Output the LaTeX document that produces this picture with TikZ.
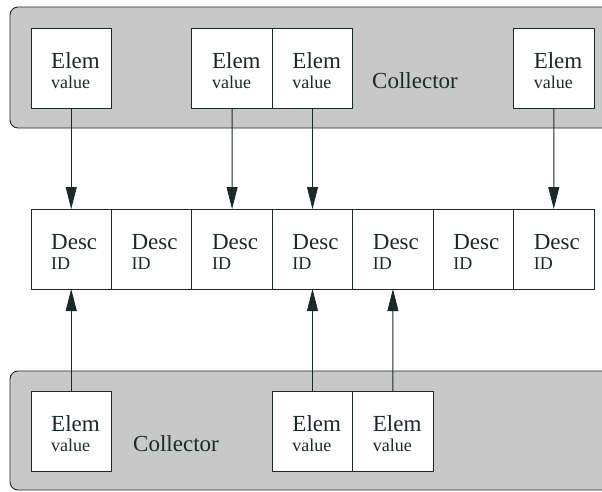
\documentclass[tikz,border=0pt]{standalone}
\usepackage{fontspec}
\setmainfont{Liberation Serif}
\usetikzlibrary{arrows.meta}

\definecolor{collgray}{HTML}{C8C8C8}
\definecolor{inkline}{HTML}{1A2A2A}

% one labelled cell: name, left x, top y, upper word, lower word
\newcommand\tile[5]{%
  \node[tile, anchor=north west] (#1) at (#2,#3) {};
  \node[bigtext, anchor=base west] (#1-a) at ([shift={(20,40)}]#1.north west) {#4};
  \node[smalltext, anchor=base west] (#1-b) at ([shift={(20,60)}]#1.north west) {#5};
}

\begin{document}
\begin{tikzpicture}[x=1pt, y=-1pt,
  tile/.style={draw=inkline, fill=white, line width=0.9pt,
    minimum width=80.43pt, minimum height=80pt, inner sep=0pt, outer sep=0pt},
  bigtext/.style={inner sep=0pt, text=inkline, font=\fontsize{23}{27}\selectfont},
  smalltext/.style={inner sep=0pt, text=inkline, font=\fontsize{18}{21}\selectfont},
  collector/.style={draw=inkline, fill=collgray, line width=0.9pt, rounded corners=8pt},
  arr/.style={draw=inkline, line width=0.9pt, -{Triangle[length=22pt, width=11pt]}}
]
\useasboundingbox (0,0) rectangle (602,491);

% the two collector bands, running off the right edge
\begin{scope}
  \clip (0,0) rectangle (602,491);
  \draw[collector] (10,7) rectangle (630,128);
  \draw[collector] (10,371) rectangle (630,490);
\end{scope}
\node[bigtext, anchor=base west] (topcoll) at (372,88) {Collector};
\node[bigtext, anchor=base west] (botcoll) at (133,451) {Collector};

% row of descriptors
\foreach \i in {0,...,6} {
  \tile{d\i}{31+80.43*\i}{209}{Desc}{ID}
}

% elements held by the upper collector
\tile{t0}{31}{28}{Elem}{value}
\tile{t2}{191.86}{28}{Elem}{value}
\tile{t3}{272.29}{28}{Elem}{value}
\tile{t6}{513.58}{28}{Elem}{value}

% elements held by the lower collector
\tile{b0}{31}{391}{Elem}{value}
\tile{b3}{272.29}{391}{Elem}{value}
\tile{b4}{352.72}{391}{Elem}{value}

% references from elements to descriptors
\draw[arr] (t0.south) -- (d0.north);
\draw[arr] (t2.south) -- (d2.north);
\draw[arr] (t3.south) -- (d3.north);
\draw[arr] (t6.south) -- (d6.north);
\draw[arr] (b0.north) -- (d0.south);
\draw[arr] (b3.north) -- (d3.south);
\draw[arr] (b4.north) -- (d4.south);
\end{tikzpicture}
\end{document}
